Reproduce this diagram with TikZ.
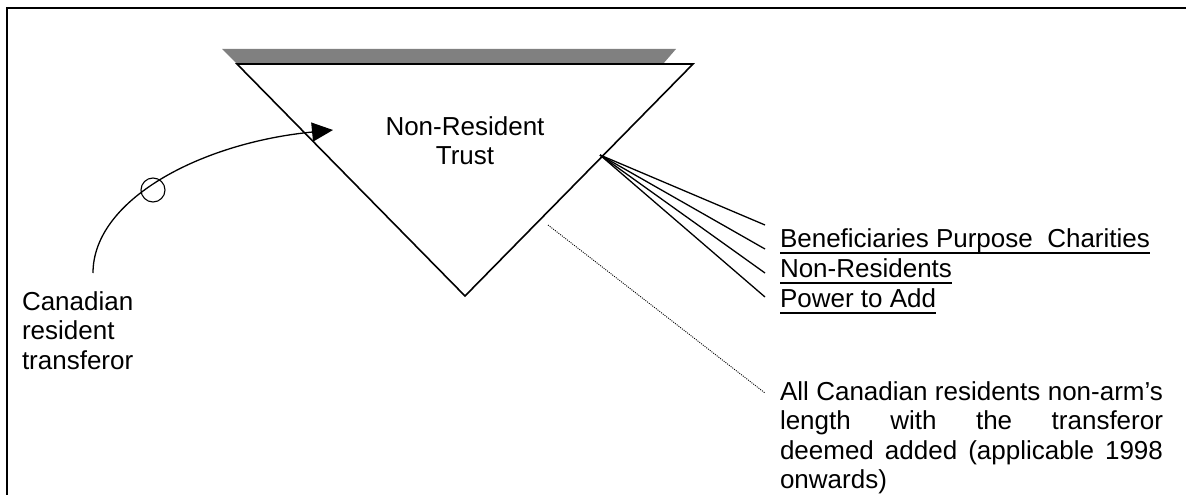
\documentclass[tikz,border=0pt]{standalone}
\usepackage{fontspec}
\setmainfont{Liberation Sans}
\usetikzlibrary{arrows.meta}
\definecolor{bargray}{HTML}{808080}
\begin{document}
\begin{tikzpicture}[x=1pt,y=-1pt,
  lbl/.style={inner sep=0pt, outer sep=0pt, font=\fontsize{26}{29.5}\selectfont},
  edge/.style={line width=1.6pt, line join=miter},
  conn/.style={line width=1.3pt},
  uline/.style={line width=1.7pt},
  dotline/.style={line width=0.9pt, dash pattern=on 1pt off 1.2pt}]
\useasboundingbox (0,0) rectangle (1186,495);
% frame
\draw[line width=2.4pt] (7,496) -- (7,8) -- (1187,8);
% shaded top bar
\fill[bargray] (222,49) -- (676,49) -- (663,64) -- (237,64) -- cycle;
% triangle
\coordinate (tl) at (237,64);
\coordinate (tr) at (693,64);
\coordinate (bt) at (465,296);
\draw[edge] (tl) -- (tr) -- (bt) -- cycle;
\node[lbl, anchor=base, text width=300pt, align=center] (trust) at (465,135) {Non-Resident\\Trust};
% transferor
\node[lbl, anchor=base west, text width=150pt, align=left] (transferor) at (22,310) {Canadian\\resident\\transferor};
\coordinate (start) at (93,273);
\coordinate (tip) at (333,130);
\draw[conn, -{Triangle[length=21pt,width=19pt]}] (start) .. controls (93,200) and (200,143) .. (tip);
\node[circle, draw, line width=1.1pt, minimum size=24pt, inner sep=0pt] (ring) at (153,190) {};
% fan
\coordinate (fan) at (600,155);
\coordinate (f1) at (765,225);
\coordinate (f2) at (765,249);
\coordinate (f3) at (765,273);
\coordinate (f4) at (765,297);
\foreach \f in {f1,f2,f3,f4} \draw[conn] (fan) -- (\f);
\node[lbl, anchor=base west] (ben) at (780,247) {Beneficiaries Purpose\ \ Charities};
\node[lbl, anchor=base west] (nonres) at (780,277) {Non-Residents};
\node[lbl, anchor=base west] (power) at (780,307) {Power to Add};
\foreach \n in {ben,nonres,power}
  \draw[uline] ([yshift=-6pt]\n.base west) -- ([yshift=-6pt]\n.base east);
% note
\node[lbl, anchor=base west, text width=383pt, align=justify] (note) at (780,400)
  {All Canadian residents non-arm’s\linebreak length with the transferor\linebreak deemed added (applicable 1998\linebreak onwards)};
\coordinate (dstart) at (548,225);
\coordinate (dend) at (765,393);
\draw[dotline] (dstart) -- (dend);
\end{tikzpicture}
\end{document}
